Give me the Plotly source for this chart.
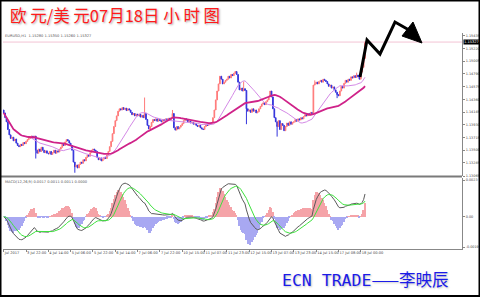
import numpy as np
import pandas as pd
import plotly.graph_objects as go

# ---------------- data ----------------
closes = [
    1.1413, 1.1405, 1.1398, 1.1385, 1.1376, 1.1370, 1.1372, 1.1366, 1.1369, 1.1362, 1.1358, 1.1356, 1.1360, 1.1358, 1.1363, 1.1361,
    1.1365, 1.1368, 1.1370, 1.1372, 1.1374, 1.1371, 1.1374, 1.1350, 1.1345, 1.1352, 1.1348, 1.1355, 1.1350, 1.1346, 1.1349, 1.1345,
    1.1344, 1.1348, 1.1343, 1.1346, 1.1350, 1.1345, 1.1349, 1.1347, 1.1352, 1.1355, 1.1360, 1.1358, 1.1364, 1.1368, 1.1366, 1.1362,
    1.1358, 1.1350, 1.1330, 1.1322, 1.1325, 1.1320, 1.1326, 1.1330, 1.1328, 1.1334, 1.1332, 1.1338, 1.1342, 1.1340, 1.1346, 1.1350,
    1.1352, 1.1350, 1.1348, 1.1338, 1.1334, 1.1337, 1.1332, 1.1335, 1.1338, 1.1336, 1.1342, 1.1348, 1.1356, 1.1365, 1.1378, 1.1390,
    1.1400, 1.1408, 1.1416, 1.1420, 1.1418, 1.1422, 1.1419, 1.1421, 1.1417, 1.1420, 1.1418, 1.1414, 1.1410, 1.1412, 1.1408, 1.1411,
    1.1408, 1.1411, 1.1406, 1.1409, 1.1405, 1.1412, 1.1402, 1.1392, 1.1386, 1.1390, 1.1397, 1.1402, 1.1400, 1.1403, 1.1399, 1.1402,
    1.1400, 1.1398, 1.1402, 1.1400, 1.1403, 1.1401, 1.1404, 1.1402, 1.1405, 1.1412, 1.1388, 1.1384, 1.1390, 1.1386, 1.1389, 1.1392,
    1.1395, 1.1400, 1.1403, 1.1401, 1.1398, 1.1399, 1.1396, 1.1397, 1.1394, 1.1395, 1.1392, 1.1390, 1.1392, 1.1388, 1.1386, 1.1385,
    1.1390, 1.1393, 1.1392, 1.1395, 1.1394, 1.1396, 1.1405, 1.1418, 1.1435, 1.1450, 1.1462, 1.1475, 1.1470, 1.1462, 1.1465, 1.1468,
    1.1470, 1.1475, 1.1472, 1.1478, 1.1476, 1.1480, 1.1483, 1.1478, 1.1465, 1.1452, 1.1455, 1.1450, 1.1454, 1.1451, 1.1420, 1.1416,
    1.1418, 1.1414, 1.1420, 1.1416, 1.1418, 1.1413, 1.1415, 1.1420, 1.1424, 1.1428, 1.1430, 1.1427, 1.1432, 1.1435, 1.1440, 1.1450,
    1.1440, 1.1420, 1.1405, 1.1398, 1.1390, 1.1400, 1.1385, 1.1395, 1.1392, 1.1383, 1.1390, 1.1396, 1.1392, 1.1398, 1.1394, 1.1397,
    1.1398, 1.1402, 1.1399, 1.1403, 1.1401, 1.1405, 1.1403, 1.1407, 1.1410, 1.1408, 1.1412, 1.1410, 1.1414, 1.1412, 1.1460, 1.1462,
    1.1465, 1.1462, 1.1466, 1.1468, 1.1465, 1.1470, 1.1468, 1.1466, 1.1462, 1.1458, 1.1460, 1.1455, 1.1457, 1.1452, 1.1448, 1.1444,
    1.1442, 1.1450, 1.1458, 1.1455, 1.1463, 1.1468, 1.1465, 1.1470, 1.1468, 1.1474, 1.1472, 1.1476, 1.1473, 1.1477, 1.1474, 1.1470,
    1.1482, 1.1490, 1.1505, 1.1533,
]
first_open = 1.1418
wick_hi = {101: 1.1439, 121: 1.1418, 172: 1.1466, 223: 1.1468, 253: 1.1481}
wick_lo = {23: 1.1336, 51: 1.1312, 174: 1.1394, 196: 1.1373, 239: 1.1438}

x_tick_bars = [0, 16, 32, 48, 64, 80, 96, 112, 128, 144, 160, 176, 192, 208, 224, 240, 256]
x_tick_labels = ["Jul 2017", "3 Jul 22:00", "4 Jul 14:00", "5 Jul 06:00", "5 Jul 22:00", "6 Jul 14:00",
                 "7 Jul 06:00", "7 Jul 22:00", "10 Jul 15:00", "11 Jul 07:00", "11 Jul 23:00",
                 "12 Jul 15:00", "13 Jul 07:00", "13 Jul 23:00", "14 Jul 15:00", "17 Jul 08:00", "18 Jul 00:00"]
price_ticks = [1.13065, 1.13285, 1.13500, 1.13715, 1.13930, 1.14145, 1.14360, 1.14575, 1.14790, 1.15005, 1.15220, 1.15435]
macd_ticks = [0.0023, 0.0, -0.0019]
macd_tick_labels = ["0.0023", "0.00", "-0.0019"]
current_price = 1.15327

# ---------------- derived series ----------------
n = len(closes)
idx = np.arange(n)
c = pd.Series(closes)
opens = [first_open] + closes[:-1]
highs = [max(o, cl) for o, cl in zip(opens, closes)]
lows = [min(o, cl) for o, cl in zip(opens, closes)]
for k, v in wick_hi.items():
    highs[k] = max(highs[k], v)
for k, v in wick_lo.items():
    lows[k] = min(lows[k], v)

ma_fast = c.rolling(20, min_periods=1).mean()
ma_slow = c.rolling(45, min_periods=1).mean()
ema12 = c.ewm(span=12, adjust=False).mean()
ema26 = c.ewm(span=26, adjust=False).mean()
dif = ema12 - ema26
dea = dif.ewm(span=9, adjust=False).mean()
hist = 2 * (dif - dea)

W, H = 480, 297
def px(x):
    return x / W
def py(y):
    return 1 - y / H

fig = go.Figure()
fig.add_trace(go.Candlestick(
    x=idx, open=opens, high=highs, low=lows, close=closes,
    increasing=dict(line=dict(color="#ff7a7a", width=1), fillcolor="#ff7a7a"),
    decreasing=dict(line=dict(color="#3434dc", width=1), fillcolor="#3434dc"),
    whiskerwidth=0, xaxis="x", yaxis="y", showlegend=False, hoverinfo="skip"))
fig.add_trace(go.Scatter(x=idx, y=ma_fast, mode="lines", line=dict(color="#d489e6", width=1),
                         xaxis="x", yaxis="y", showlegend=False, hoverinfo="skip"))
fig.add_trace(go.Scatter(x=idx, y=ma_slow, mode="lines", line=dict(color="#cf2289", width=1.8),
                         xaxis="x", yaxis="y", showlegend=False, hoverinfo="skip"))

bar_colors = ["#f5a3a8" if v >= 0 else "#a8a8f2" for v in hist]
fig.add_trace(go.Bar(x=idx, y=hist, marker=dict(color=bar_colors, line=dict(width=0)),
                     xaxis="x", yaxis="y2", showlegend=False, hoverinfo="skip"))
fig.add_trace(go.Scatter(x=idx, y=dif, mode="lines", line=dict(color="#5a5a5a", width=1),
                         xaxis="x", yaxis="y2", showlegend=False, hoverinfo="skip"))
fig.add_trace(go.Scatter(x=idx, y=dea, mode="lines", line=dict(color="#3ee03e", width=1),
                         xaxis="x", yaxis="y2", showlegend=False, hoverinfo="skip"))

bar_px = 1.395
x0_px, x1_px = 3, 462
r0 = -0.5
r1 = r0 + (x1_px - x0_px) / bar_px

xfont = dict(family="DejaVu Sans", size=3.6, color="#444")
yfont = dict(family="DejaVu Sans", size=3.4, color="#444")
fig.update_layout(
    width=W, height=H, margin=dict(l=0, r=0, t=0, b=0),
    paper_bgcolor="white", plot_bgcolor="white", bargap=0,
    xaxis=dict(domain=[px(x0_px), px(x1_px)], range=[r0, r1], anchor="y2",
               tickvals=x_tick_bars, ticktext=x_tick_labels, tickfont=xfont, tickangle=0,
               ticklabelposition="outside right", ticks="outside", ticklen=2, tickcolor="#888",
               showline=True, linecolor="#888", linewidth=1, showgrid=False, zeroline=False,
               rangeslider=dict(visible=False), automargin=False, fixedrange=True),
    yaxis=dict(domain=[py(176), py(33)], range=[1.13065, 1.15480], side="right", anchor="x",
               tickvals=price_ticks, ticktext=[f"{v:.5f}" for v in price_ticks], tickfont=yfont,
               ticks="outside", ticklen=2, tickcolor="#888", showline=True, linecolor="#888",
               linewidth=1, showgrid=False, zeroline=False, automargin=False),
    yaxis2=dict(domain=[py(248.5), py(178)], range=[-0.00199, 0.00243], side="right", anchor="x",
                tickvals=macd_ticks, ticktext=macd_tick_labels, tickfont=yfont,
                ticks="outside", ticklen=2, tickcolor="#888", showline=True, linecolor="#888",
                linewidth=1, showgrid=False, zeroline=False, automargin=False),
)

shapes = [
    # current price line
    dict(type="line", xref="paper", yref="y", x0=px(x0_px), x1=px(x1_px), y0=current_price, y1=current_price,
         line=dict(color="#f3c4d4", width=1)),
    # pane separator
    dict(type="line", xref="paper", yref="paper", x0=px(0), x1=px(x1_px), y0=py(176.5), y1=py(176.5),
         line=dict(color="#7a7a7a", width=2)),
    # hand-drawn arrow
    dict(type="path", xref="paper", yref="paper",
         path=f"M {px(360)} {py(77)} L {px(367)} {py(40)} L {px(380)} {py(54)} L {px(395)} {py(22)} L {px(409)} {py(30)}",
         line=dict(color="black", width=3)),
    dict(type="path", xref="paper", yref="paper",
         path=f"M {px(402)} {py(36)} L {px(413)} {py(22)} L {px(422)} {py(43)} Z",
         fillcolor="black", line=dict(color="black", width=1)),
    # outer border
    dict(type="rect", xref="paper", yref="paper", x0=px(0.5), x1=px(479.5), y0=py(296), y1=py(0.5),
         line=dict(color="black", width=2)),
]
fig.update_layout(shapes=shapes)

annotations = [
    dict(text="欧 元/美 元07月18日 小 时 图", xref="paper", yref="paper", x=px(8), y=py(15),
         xanchor="left", yanchor="middle", showarrow=False,
         font=dict(family="Noto Sans CJK SC", size=16.5, color="#ff1a1a", shadow="1px 1px 2px #aaaaaa")),
    dict(text="EURUSD,H1  1.15280 1.15350 1.15260 1.15327", xref="paper", yref="paper", x=px(3), y=py(36),
         xanchor="left", yanchor="middle", showarrow=False, font=dict(family="DejaVu Sans", size=3.6, color="#555")),
    dict(text="MACD(12,26,9) 0.0017 0.0011 0.0011 0.0000", xref="paper", yref="paper", x=px(3), y=py(182),
         xanchor="left", yanchor="middle", showarrow=False, font=dict(family="DejaVu Sans", size=3.6, color="#555")),
    dict(text=f"{current_price:.5f}", xref="paper", yref="y", x=px(463), y=current_price,
         xanchor="left", yanchor="middle", showarrow=False, bgcolor="black", borderpad=0,
         font=dict(family="DejaVu Sans", size=3.6, color="white")),
    dict(text='ECN TRADE<span style="font-family:Noto Sans CJK SC">——李映辰</span>', xref="paper", yref="paper",
         x=px(280), y=py(279), xanchor="left", yanchor="middle", showarrow=False,
         font=dict(family="DejaVu Sans Mono", size=16.5, color="#1c1ce8", shadow="1px 1px 2px #c0c0c0")),
]
fig.update_layout(annotations=annotations)

fig.write_html("out.html")
